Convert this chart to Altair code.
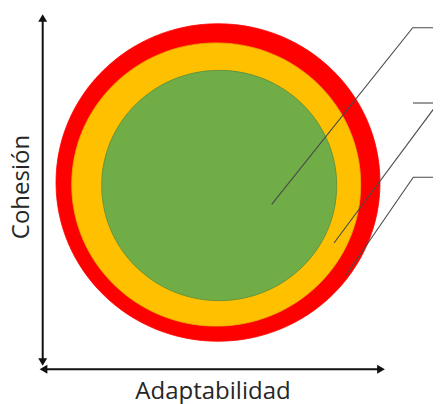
import altair as alt
import pandas as pd

# --- rings (page-pixel coordinates) ---
ring_names = ["exterior", "intermedio", "interior"]
ring_cx = [218.0, 216.2, 219.2]
ring_cy = [182.5, 184.5, 185.5]
ring_rx = [162.0, 144.5, 117.5]
ring_colors = ["#FF0000", "#FFC000", "#70AD47"]
ring_edges = ["#FF0000", "#E8AE00", "#5A8C3A"]

# --- callout leader lines ---
leader_seg = [1, 1, 1, 2, 2, 3, 3, 3, 4, 4]
leader_x = [271.7, 412.7, 441.0, 334.0, 438.0, 346.0, 413.3, 441.0, 413.0, 441.0]
leader_y = [204.3, 27.7, 27.7, 243.0, 103.0, 275.0, 177.3, 177.3, 103.0, 103.0]

# --- axis arrows ---
arrow_id = ["v", "v", "h", "h"]
arrow_x = [42.7, 42.7, 43.5, 381.0]
arrow_y = [18.0, 362.0, 369.3, 369.3]
head_x = [42.7, 42.7, 43.5, 381.0]
head_y = [18.0, 362.0, 369.3, 369.3]
head_shape = ["triangle-up", "triangle-down", "triangle-left", "triangle-right"]

# --- labels ---
label_x_text = "Adaptabilidad"
label_y_text = "Cohesión"

xs = alt.Scale(domain=[8, 433], nice=False, zero=False)
ys = alt.Scale(domain=[8, 404], nice=False, zero=False, reverse=True)

rings = pd.DataFrame({
    "ring": ring_names,
    "x": ring_cx,
    "y": ring_cy,
    "size": [(2 * r) ** 2 for r in ring_rx],
    "o": [0, 1, 2],
})
ellipse = "M-1,0A1,0.98,0,1,1,1,0A1,0.98,0,1,1,-1,0Z"

ring_layer = alt.Chart(rings).mark_point(
    filled=True, opacity=1, shape=ellipse, strokeWidth=0.8
).encode(
    x=alt.X("x:Q", scale=xs, axis=None),
    y=alt.Y("y:Q", scale=ys, axis=None),
    size=alt.Size("size:Q", scale=None),
    fill=alt.Fill("ring:N", scale=alt.Scale(domain=ring_names, range=ring_colors), legend=None),
    stroke=alt.Stroke("ring:N", scale=alt.Scale(domain=ring_names, range=ring_edges), legend=None),
    order=alt.Order("o:Q"),
)

leaders = pd.DataFrame({"seg": leader_seg, "x": leader_x, "y": leader_y,
                        "i": list(range(len(leader_x)))})
leader_layer = alt.Chart(leaders).mark_line(color="#4a4a4a", strokeWidth=1.1).encode(
    x=alt.X("x:Q", scale=xs, axis=None),
    y=alt.Y("y:Q", scale=ys, axis=None),
    detail="seg:N",
    order="i:Q",
)

arrows = pd.DataFrame({"id": arrow_id, "x": arrow_x, "y": arrow_y})
arrow_layer = alt.Chart(arrows).mark_line(color="#111111", strokeWidth=2).encode(
    x=alt.X("x:Q", scale=xs, axis=None),
    y=alt.Y("y:Q", scale=ys, axis=None),
    detail="id:N",
)

heads = pd.DataFrame({"x": head_x, "y": head_y, "shape": head_shape})
head_layer = alt.Chart(heads).mark_point(
    filled=True, opacity=1, color="#111111", size=80
).encode(
    x=alt.X("x:Q", scale=xs, axis=None),
    y=alt.Y("y:Q", scale=ys, axis=None),
    shape=alt.Shape("shape:N", scale=None),
)

tx = alt.Chart(pd.DataFrame({"x": [213.0], "y": [398.5], "t": [label_x_text]})).mark_text(
    font="Open Sans", fontSize=24, color="#262626", baseline="alphabetic", align="center"
).encode(
    x=alt.X("x:Q", scale=xs, axis=None),
    y=alt.Y("y:Q", scale=ys, axis=None),
    text="t:N",
)

ty = alt.Chart(pd.DataFrame({"x": [21.5], "y": [187.0], "t": [label_y_text]})).mark_text(
    font="Open Sans", fontSize=24, color="#262626", baseline="middle", align="center", angle=270
).encode(
    x=alt.X("x:Q", scale=xs, axis=None),
    y=alt.Y("y:Q", scale=ys, axis=None),
    text="t:N",
)

chart = alt.layer(ring_layer, leader_layer, arrow_layer, head_layer, tx, ty).properties(
    width=425, height=396, padding=0, autosize=alt.AutoSizeParams(type="none"),
    background="white",
).configure_view(stroke=None)

chart.save("out.html", embed_options={"renderer": "svg", "actions": False})
